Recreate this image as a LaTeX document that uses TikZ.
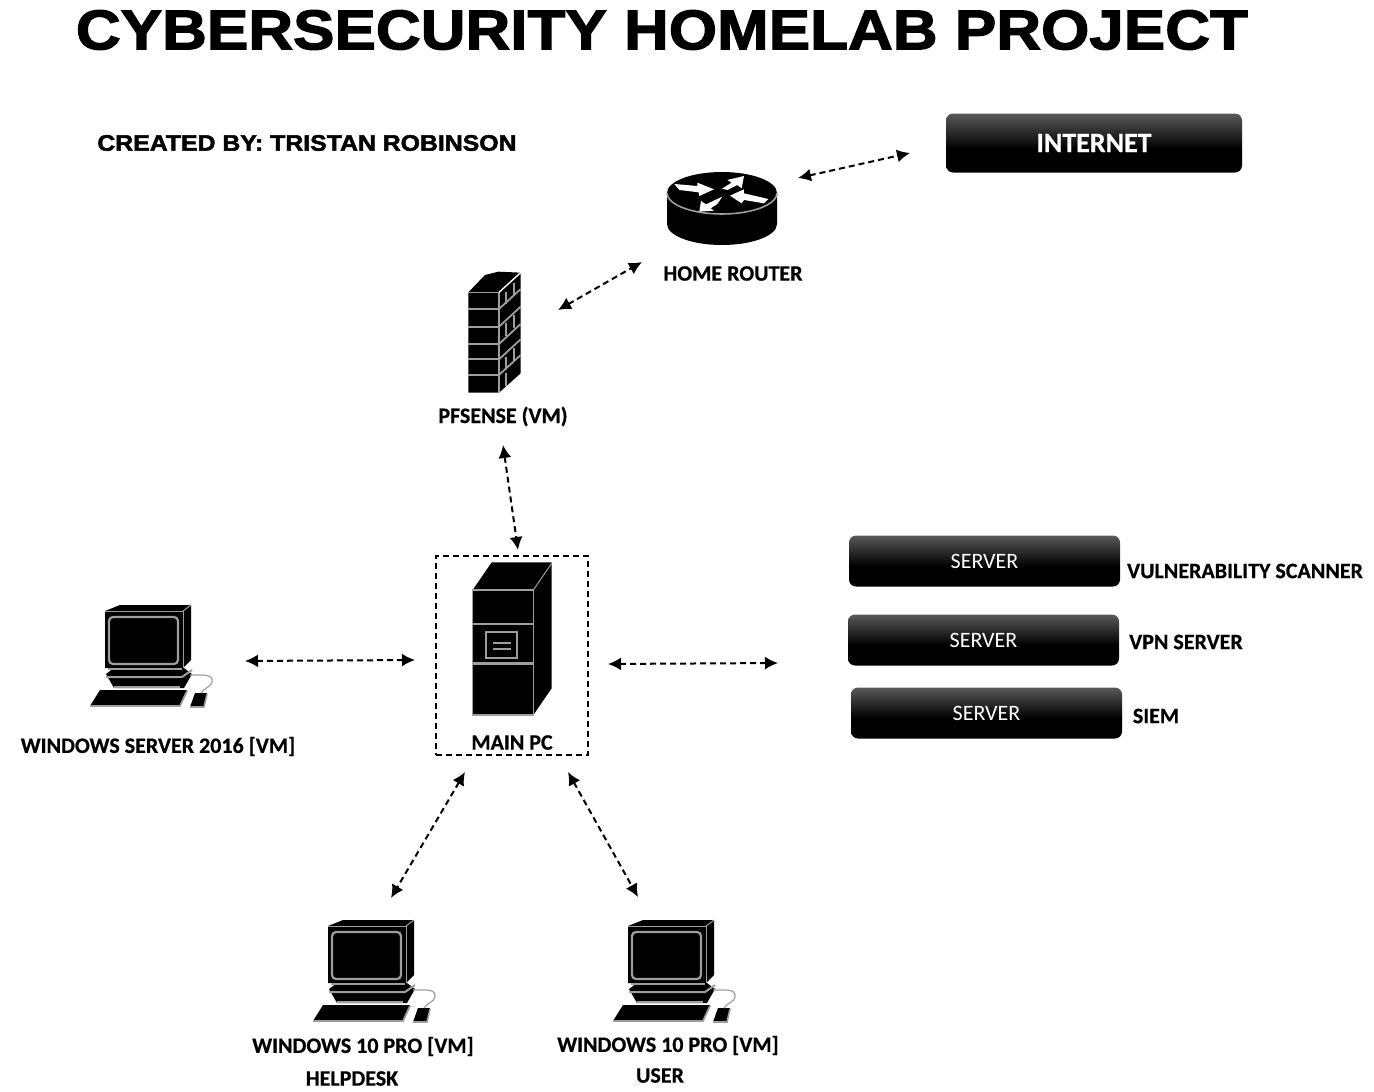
\documentclass[tikz,border=0pt]{standalone}
\usepackage{fontspec}
\setmainfont[BoldFeatures={FakeBold=0.6}]{Carlito}
\newfontfamily\heavyfont[BoldFeatures={FakeBold=2.2,FakeStretch=1.108}]{Liberation Sans}
\usetikzlibrary{arrows.meta}
\definecolor{iconline}{gray}{0.62}
\pgfdeclareverticalshading{serverfade}{100bp}{color(0bp)=(black); color(45bp)=(black); color(75bp)=(black!65); color(100bp)=(black!65)}

\tikzset{
	pics/desktop/.style={code={
		% monitor
		\fill[black] (35,21) -- (50,15) -- (121,15) -- (121,70) -- (113,78) -- (35,78) -- cycle;
		\draw[iconline, line width=1] (113,21) -- (121,15);
		\draw[iconline, line width=1] (35,21) -- (113,21) -- (113,78);
		\draw[iconline, line width=2.2, rounded corners=4] (39,27) rectangle (108,74);
		% base
		\fill[black] (36,84) -- (44,78) -- (114,78) -- (122,84) -- (114,98) -- (44,98) -- cycle;
		\draw[iconline, line width=2] (36,87) -- (112,87) -- (122,80);
		\draw[iconline, line width=2] (38,79) -- (112,79);
		\draw[iconline, line width=1.8] (44,97) -- (110,97);
		% keyboard
		\fill[black] (20,116) -- (30,100) -- (117,100) -- (110,116) -- cycle;
		\draw[iconline, line width=1.8] (20,116) -- (110,116) -- (117,101);
		% mouse
		\fill[black] (120,117) -- (125,103) -- (137,103) -- (134,117) -- cycle;
		\draw[iconline, line width=1.6] (120,117) -- (134,117) -- (137,104);
		\draw[iconline, line width=1.2] (120,85) .. controls (135,85) and (143,84) .. (142,92) .. controls (141,97) and (134,98) .. (131,103);
	}}
}

\begin{document}
\begin{tikzpicture}[x=1pt, y=-1pt, >={Latex[length=13pt, width=13pt]}]
	\tikzstyle{label} = [font=\fontsize{22}{24}\selectfont\bfseries, inner sep=0pt]
	\tikzstyle{serverbox} = [rounded corners=7pt, minimum width=271pt, minimum height=51pt, inner sep=0pt, text=white, shading=serverfade, font=\fontsize{22}{24}\selectfont]
	\tikzstyle{link} = [<->, line width=2pt, dash pattern=on 6pt off 4pt]
	
	\useasboundingbox (0,0) rectangle (1374,1092);
	
	% title
	\node[font=\heavyfont\fontsize{56}{60}\selectfont\bfseries, inner sep=0pt] at (662,30) (title) {CYBERSECURITY HOMELAB PROJECT};
	\node[font=\heavyfont\fontsize{22.4}{24}\selectfont\bfseries, inner sep=0pt] at (307,143) (author) {CREATED BY: TRISTAN ROBINSON};
	
	% home router
	\fill[black] (667,193) -- (667,224) arc[start angle=180, end angle=0, x radius=55, y radius=21] -- (777,193) arc[start angle=0, end angle=-180, x radius=55, y radius=21] -- cycle;
	\draw[iconline, line width=1.6] (667,193) arc[start angle=180, end angle=0, x radius=55, y radius=21];
	\begin{scope}[shift={(640,100)}, x=0.3333pt, y=-0.3333pt]
		\fill[white] (103,252) -- (172,258) -- (172,248) -- (222,268) -- (178,288) -- (176,277) -- (118,270) -- cycle;
		\fill[white] (312,228) -- (305,265) -- (292,255) -- (262,270) -- (246,266) -- (275,248) -- (262,240) -- cycle;
		\fill[white] (270,287) -- (312,268) -- (312,280) -- (385,297) -- (372,310) -- (312,300) -- (305,310) -- cycle;
		\fill[white] (178,335) -- (183,303) -- (198,313) -- (247,290) -- (232,312) -- (212,325) -- (222,332) -- cycle;
	\end{scope}
	\node[label] at (733,273.5) (routerlabel) {HOME ROUTER};
	
	% firewall
	\begin{scope}[shift={(430,260)}, x=0.3333pt, y=-0.3333pt]
		\fill[black] (115,97) -- (165,45) -- (205,35) -- (272,38) -- (272,340) -- (207,398) -- (115,398) -- cycle;
		\draw[iconline, line width=1.6] (115,97) -- (207,97) -- (207,398);
		\draw[white, line width=1.4] (207,97) -- (272,38);
		\foreach \y in {147,200,252,298,345} {
			\draw[iconline, line width=2.2] (115,\y) -- (207,\y);
			\draw[iconline, line width=1.8] (207,\y) -- (272,\y-60);
		}
		\foreach \x/\y in {228/95,252/70,228/190,252/165,228/290,252/265,228/340} {
			\draw[iconline, line width=2] (\x,\y) -- (\x,\y+38);
		}
	\end{scope}
	\node[label] at (503,416.5) (fwlabel) {PFSENSE (VM)};
	
	% main pc
	\begin{scope}[shift={(425,545)}, x=0.3333pt, y=-0.3333pt]
		\fill[black] (143,135) -- (200,52) -- (380,52) -- (380,430) -- (325,510) -- (143,510) -- cycle;
		\draw[iconline, line width=1.6] (143,135) -- (325,135) -- (325,510) -- (143,510) -- cycle;
		\draw[iconline, line width=1] (325,135) -- (380,55);
		\draw[iconline, line width=2] (143,238) -- (325,238);
		\draw[iconline, line width=3] (143,357) -- (325,357);
		\draw[iconline, line width=2.2] (183,260) rectangle (275,340);
		\draw[iconline, line width=2] (205,293) -- (258,293);
		\draw[iconline, line width=2.6] (205,312) -- (258,312);
	\end{scope}
	\node[draw, line width=2pt, dash pattern=on 6pt off 4pt, minimum width=152pt, minimum height=199pt, inner sep=0pt] at (512,655.5) (mainbox) {};
	\node[label] at (512,742.5) (mainlabel) {MAIN PC};
	
	% computers
	\pic at (70,590) {desktop};
	\node[label] at (158,746.5) (srvlabel) {WINDOWS SERVER 2016 [VM]};
	\pic at (293,905) {desktop};
	\node[label] at (363,1046.5) (helplabel) {WINDOWS 10 PRO [VM]};
	\node[label] at (352,1078.5) (helpdesk) {HELPDESK};
	\pic at (593,905) {desktop};
	\node[label] at (668,1045.5) (userlabel) {WINDOWS 10 PRO [VM]};
	\node[label] at (660,1075.5) (user) {USER};
	
	% boxes
	\node[serverbox, minimum width=296pt, minimum height=59pt, font=\fontsize{28}{30}\selectfont\bfseries] at (1094,143) (internet) {INTERNET};
	\node[serverbox] at (984.5,561) (scanbox) {SERVER};
	\node[serverbox] at (983.5,640) (vpnbox) {SERVER};
	\node[serverbox] at (986.5,713) (siembox) {SERVER};
	\node[label] at (1245,571) (scanlabel) {VULNERABILITY SCANNER};
	\node[label] at (1186,642) (vpnlabel) {VPN SERVER};
	\node[label] at (1156,716) (siemlabel) {SIEM};
	
	% free ends of the links
	\coordinate (netR) at (910,153);
	\coordinate (netL) at (798,178);
	\coordinate (routerS) at (642,262);
	\coordinate (fwN) at (558,310);
	\coordinate (fwS) at (503,445);
	\coordinate (pcN) at (518,550);
	\coordinate (srvE) at (245,661);
	\coordinate (pcW) at (415,660);
	\coordinate (pcE) at (608,664);
	\coordinate (farmW) at (778,663);
	\coordinate (pcSW) at (465,772);
	\coordinate (helpN) at (391,898);
	\coordinate (pcSE) at (568,772);
	\coordinate (userN) at (638,897);
	
	\path[link]
	(netL)	edge	(netR)
	(fwN)	edge	(routerS)
	(fwS)	edge	(pcN)
	(srvE)	edge	(pcW)
	(pcE)	edge	(farmW)
	(pcSW)	edge	(helpN)
	(pcSE)	edge	(userN);
\end{tikzpicture}
\end{document}
